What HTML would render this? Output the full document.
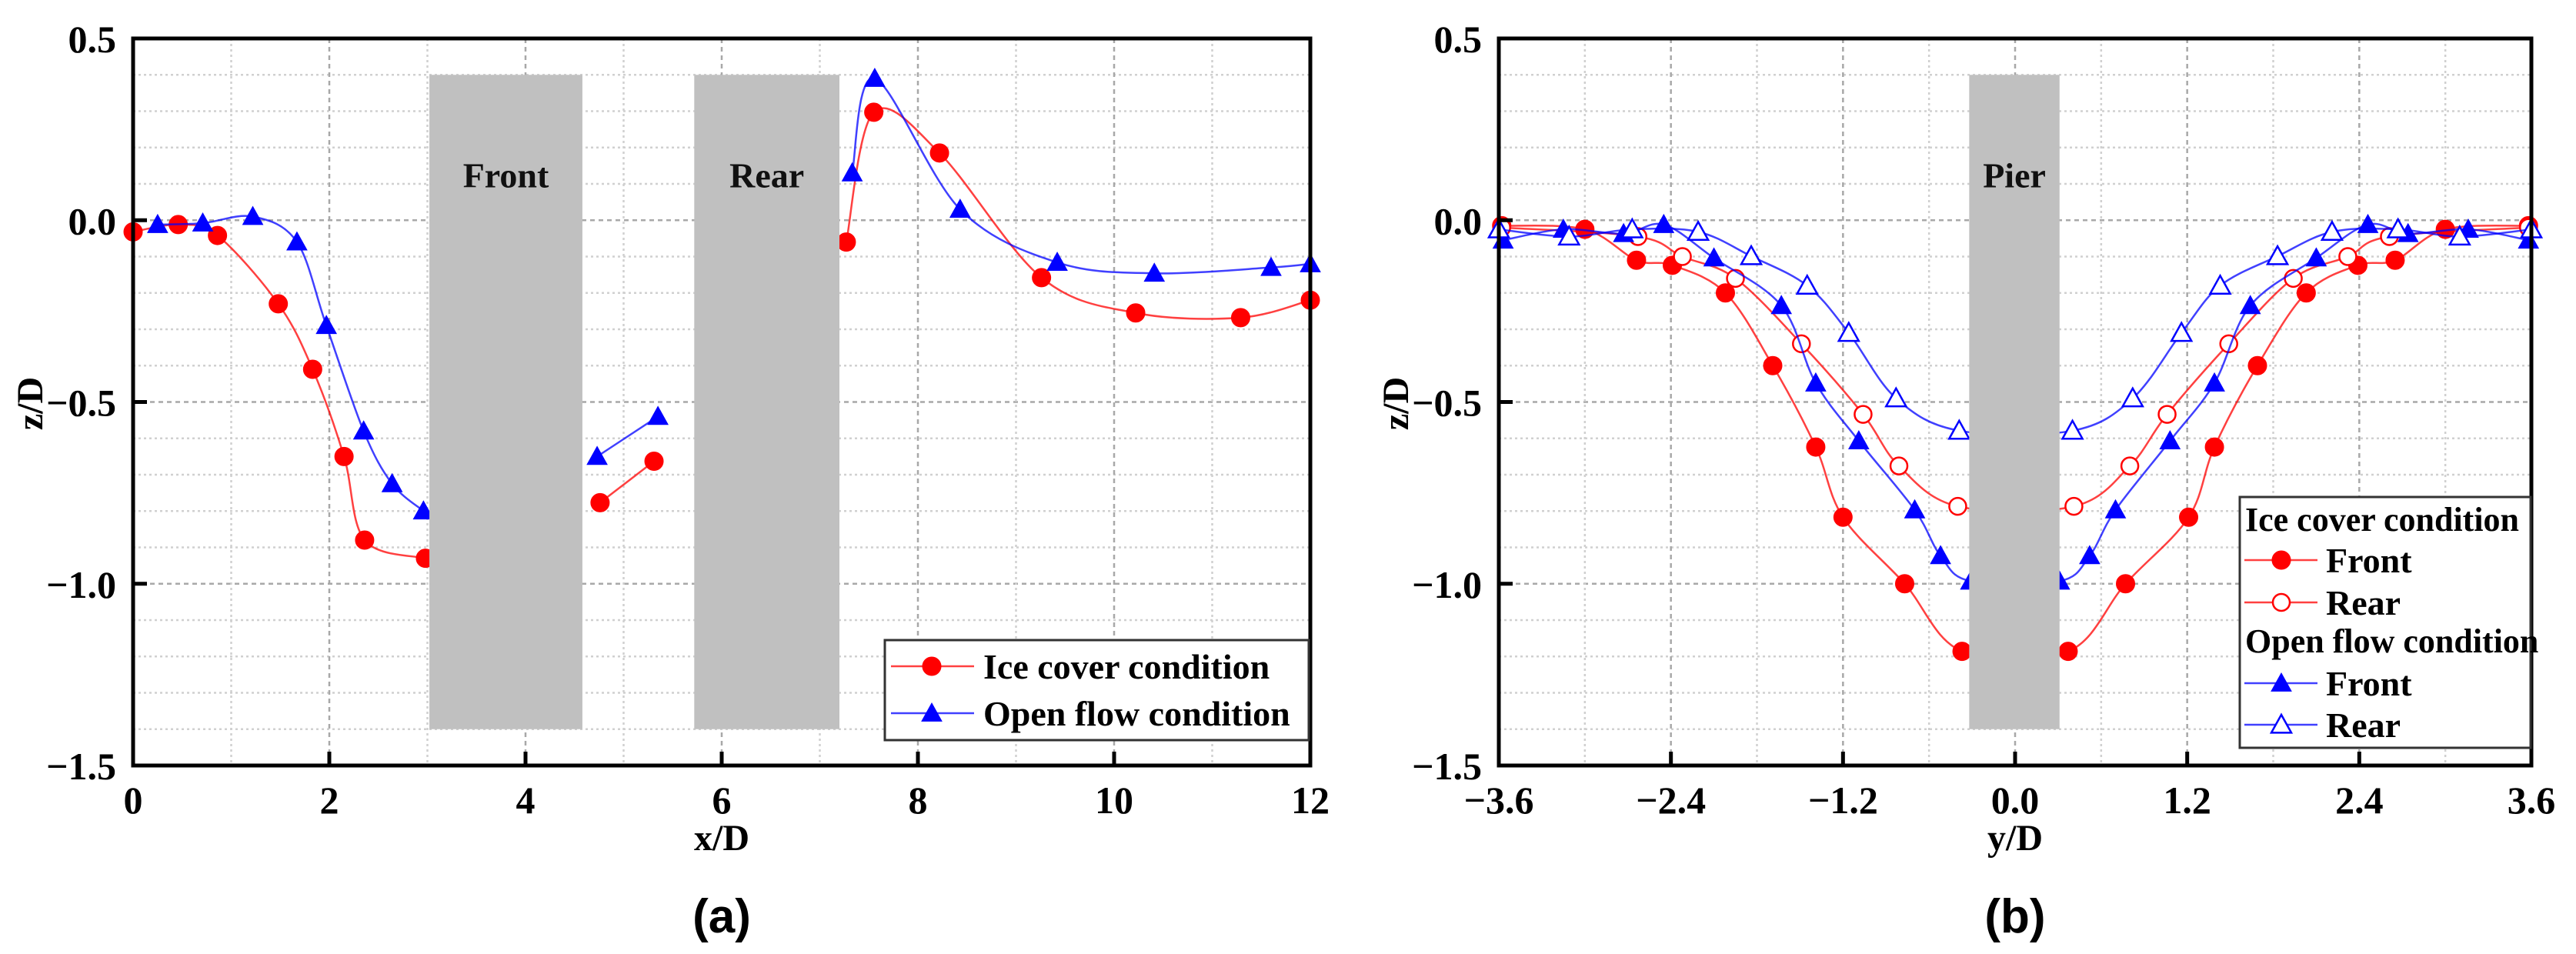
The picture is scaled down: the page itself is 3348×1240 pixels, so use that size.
<!DOCTYPE html>
<html><head><meta charset="utf-8"><style>
html,body{margin:0;padding:0;background:#fff;}
svg{display:block;font-family:"Liberation Serif",serif;font-weight:bold;}
</style></head><body>
<svg id="svg" width="3348" height="1240" viewBox="0 0 3348 1240" xmlns="http://www.w3.org/2000/svg"></svg>
<script>
// ---------- data: panel (a) ----------
const aIceX = [0, 0.46, 0.86, 1.48, 1.83, 2.15, 2.36, 2.98, 4.76, 5.31, 7.27, 7.55, 8.22, 9.26, 10.22, 11.29, 12];
const aIceY = [-0.032, -0.012, -0.042, -0.23, -0.41, -0.65, -0.88, -0.93, -0.777, -0.663, -0.06, 0.297, 0.185, -0.158, -0.255, -0.268, -0.22];
const aOpenX = [0.25, 0.71, 1.22, 1.67, 1.97, 2.35, 2.64, 2.96, 4.73, 5.35, 7.33, 7.56, 8.43, 9.42, 10.41, 11.6, 12];
const aOpenY = [-0.012, -0.008, 0.01, -0.06, -0.29, -0.58, -0.725, -0.80, -0.65, -0.54, 0.13, 0.39, 0.03, -0.116, -0.146, -0.13, -0.12];
const aIceBreaks = [8, 10];
const aOpenBreaks = [8, 10];
const aXTicks = [0, 2, 4, 6, 8, 10, 12];
const aXTickLabels = ["0", "2", "4", "6", "8", "10", "12"];
const yTicks = [0.5, 0.0, -0.5, -1.0, -1.5];
const yTickLabels = ["0.5", "0.0", "\u22120.5", "\u22121.0", "\u22121.5"];
const aBars = [[3.02, 4.58], [5.72, 7.2]];
const aBarLabels = ["Front", "Rear"];
// ---------- data: panel (b) ----------
const bIceFrontX = [-3.58, -3.0, -2.64, -2.39, -2.02, -1.69, -1.39, -1.2, -0.77, -0.37, 0.37, 0.77, 1.21, 1.39, 1.69, 2.03, 2.39, 2.65, 3.0, 3.58];
const bIceFrontY = [-0.015, -0.025, -0.11, -0.124, -0.2, -0.40, -0.624, -0.817, -1.0, -1.186, -1.186, -1.0, -0.817, -0.624, -0.40, -0.2, -0.124, -0.11, -0.025, -0.015];
const bIceRearX = [-3.58, -2.63, -2.32, -1.95, -1.49, -1.06, -0.81, -0.40, 0.41, 0.80, 1.06, 1.49, 1.94, 2.32, 2.61, 3.58];
const bIceRearY = [-0.02, -0.045, -0.10, -0.16, -0.34, -0.534, -0.676, -0.787, -0.787, -0.676, -0.534, -0.34, -0.16, -0.10, -0.045, -0.02];
const bOpenFrontX = [-3.57, -3.15, -2.73, -2.45, -2.1, -1.63, -1.39, -1.09, -0.70, -0.52, -0.31, 0.31, 0.52, 0.70, 1.08, 1.39, 1.64, 2.1, 2.46, 2.74, 3.16, 3.58];
const bOpenFrontY = [-0.055, -0.025, -0.037, -0.012, -0.104, -0.235, -0.448, -0.607, -0.797, -0.923, -0.993, -0.993, -0.923, -0.797, -0.607, -0.448, -0.235, -0.104, -0.012, -0.037, -0.025, -0.055];
const bOpenRearX = [-3.6, -3.11, -2.67, -2.21, -1.84, -1.45, -1.16, -0.83, -0.39, 0.40, 0.82, 1.16, 1.43, 1.83, 2.21, 2.67, 3.10, 3.6];
const bOpenRearY = [-0.025, -0.045, -0.025, -0.032, -0.099, -0.18, -0.31, -0.49, -0.579, -0.579, -0.49, -0.31, -0.18, -0.099, -0.032, -0.025, -0.045, -0.025];
const bXTicks = [-3.6, -2.4, -1.2, 0, 1.2, 2.4, 3.6];
const bXTickLabels = ["\u22123.6", "\u22122.4", "\u22121.2", "0.0", "1.2", "2.4", "3.6"];
const bBars = [[-0.32, 0.31]];
const bBarLabels = ["Pier"];

const NS = "http://www.w3.org/2000/svg";
const svg = document.getElementById("svg");
function mk(tag, attrs, parent) {
  const e = document.createElementNS(NS, tag);
  for (const k in attrs) e.setAttribute(k, attrs[k]);
  (parent || svg).appendChild(e);
  return e;
}
const RED = "#ff0000", BLUE = "#0000ff";

function smoothPath(pts) {
  if (pts.length < 1) return "";
  let d = "M" + pts[0][0] + "," + pts[0][1];
  for (let i = 0; i < pts.length - 1; i++) {
    const p0 = pts[Math.max(0, i - 1)], p1 = pts[i], p2 = pts[i + 1], p3 = pts[Math.min(pts.length - 1, i + 2)];
    const c1x = p1[0] + (p2[0] - p0[0]) / 6, c1y = p1[1] + (p2[1] - p0[1]) / 6;
    const c2x = p2[0] - (p3[0] - p1[0]) / 6, c2y = p2[1] - (p3[1] - p1[1]) / 6;
    d += " C" + c1x + "," + c1y + " " + c2x + "," + c2y + " " + p2[0] + "," + p2[1];
  }
  return d;
}

function marker(g, type, cx, cy, color) {
  let e;
  if (type === "circle" || type === "ocircle") {
    e = mk("circle", {cx: cx, cy: cy, r: type === "circle" ? 12 : 11, fill: type === "circle" ? color : "#fff", stroke: color, "stroke-width": type === "circle" ? 1 : 2.5}, g);
  } else {
    const s = 13;
    e = mk("polygon", {points: (cx) + "," + (cy - s) + " " + (cx - s) + "," + (cy + s * 0.8) + " " + (cx + s) + "," + (cy + s * 0.8), fill: type === "tri" ? color : "#fff", stroke: color, "stroke-width": type === "tri" ? 1 : 2.5}, g);
  }
  return e;
}

function panel(o) {
  const {L, R, T, B, xmin, xmax, name} = o;
  const sx = v => L + (v - xmin) / (xmax - xmin) * (R - L);
  const sy = v => T + (0.5 - v) / 2.0 * (B - T);
  const g = mk("g", {});
  
  
  const grid = mk("g", {}, g);
  
  
  for (let i = 1; i < 20; i++) {
    const v = 0.5 - i * 0.1;
    const major = i % 5 === 0;
    mk("line", {x1: L, x2: R, y1: sy(v), y2: sy(v), stroke: major ? "#a8a8a8" : "#d0d0d0", "stroke-width": 2.5, "stroke-dasharray": major ? "6,5" : "3,4"}, grid);
  }
  for (let i = 1; i < o.nx * 2; i++) {
    const v = xmin + i * (xmax - xmin) / (o.nx * 2);
    const major = i % 2 === 0;
    mk("line", {x1: sx(v), x2: sx(v), y1: T, y2: B, stroke: major ? "#a8a8a8" : "#d0d0d0", "stroke-width": 2.5, "stroke-dasharray": major ? "6,5" : "3,4"}, grid);
  }
  o.series.forEach(s => {
    const sg = mk("g", {}, g);
    
    
    const pts = s.x.map((v, i) => [sx(v), sy(s.y[i])]);
    const cuts = [0].concat(s.breaks || [], [pts.length]);
    for (let k = 0; k < cuts.length - 1; k++) {
      const seg = pts.slice(cuts[k], cuts[k + 1]);
      const p = mk("path", {d: smoothPath(seg), fill: "none", stroke: s.color, "stroke-width": 2.5, "stroke-opacity": 0.75}, sg);
      
      
    }
    pts.forEach(pt => {
      const m = marker(sg, s.marker, pt[0], pt[1], s.color);
      
      
    });
  });
  o.bars.forEach((b, i) => {
    const r = mk("rect", {x: sx(b[0]), y: sy(0.4), width: sx(b[1]) - sx(b[0]), height: sy(-1.4) - sy(0.4), fill: "#c0c0c0"}, g);
    
    
    const t = mk("text", {x: (sx(b[0]) + sx(b[1])) / 2, y: sy(0.12) + 14, "font-size": 46, "text-anchor": "middle", fill: "#111"}, g);
    t.textContent = o.barLabels[i];
    
    
  });
  const fr = mk("rect", {x: L, y: T, width: R - L, height: B - T, fill: "none", stroke: "#000", "stroke-width": 5}, g);
  
  
  o.xTicks.forEach((v, i) => {
    mk("line", {x1: sx(v), x2: sx(v), y1: B, y2: B - 18, stroke: "#000", "stroke-width": 5}, g);
    const t = mk("text", {x: sx(v), y: B + 62, "font-size": 50, "text-anchor": "middle"}, g);
    t.textContent = o.xTickLabels[i];
    
    
  });
  yTicks.forEach((v, i) => {
    mk("line", {x1: L, x2: L + 18, y1: sy(v), y2: sy(v), stroke: "#000", "stroke-width": 5}, g);
    const t = mk("text", {x: L - 22, y: sy(v) + 18, "font-size": 50, "text-anchor": "end"}, g);
    t.textContent = yTickLabels[i];
    
    
  });
  const xt = mk("text", {x: (L + R) / 2, y: B + 110, "font-size": 48, "text-anchor": "middle"}, g);
  xt.textContent = o.xTitle;
  
  
  const yt = mk("text", {x: 0, y: 0, "font-size": 48, "text-anchor": "middle", transform: "translate(" + (L - 118) + "," + ((T + B) / 2 + 2) + ") rotate(-90)"}, g);
  yt.textContent = "z/D";
  
  
  const cap = mk("text", {x: (L + R) / 2, y: 1212, "font-size": 62, "text-anchor": "middle", "font-family": "Liberation Sans, sans-serif"}, g);
  cap.textContent = o.caption;
  
  
  return g;
}

panel({L: 173, R: 1703, T: 50, B: 995, xmin: 0, xmax: 12, nx: 6, name: "panel-a",
  xTicks: aXTicks, xTickLabels: aXTickLabels, xTitle: "x/D", caption: "(a)",
  bars: aBars, barLabels: aBarLabels,
  series: [
    {name: "ice-cover-series", x: aIceX, y: aIceY, breaks: aIceBreaks, color: RED, marker: "circle"},
    {name: "open-flow-series", x: aOpenX, y: aOpenY, breaks: aOpenBreaks, color: BLUE, marker: "tri"}
  ]});
panel({L: 1948, R: 3290, T: 50, B: 995, xmin: -3.6, xmax: 3.6, nx: 6, name: "panel-b",
  xTicks: bXTicks, xTickLabels: bXTickLabels, xTitle: "y/D", caption: "(b)",
  bars: bBars, barLabels: bBarLabels,
  series: [
    {name: "ice-front-series", x: bIceFrontX, y: bIceFrontY, color: RED, marker: "circle"},
    {name: "ice-rear-series", x: bIceRearX, y: bIceRearY, color: RED, marker: "ocircle"},
    {name: "open-front-series", x: bOpenFrontX, y: bOpenFrontY, color: BLUE, marker: "tri"},
    {name: "open-rear-series", x: bOpenRearX, y: bOpenRearY, color: BLUE, marker: "otri"}
  ]});

const lgA = mk("g", {});


mk("rect", {x: 1150, y: 832, width: 551, height: 130, fill: "#fff", stroke: "#333", "stroke-width": 3}, lgA);
[["Ice cover condition", 866, RED, "circle"], ["Open flow condition", 927, BLUE, "tri"]].forEach(r => {
  const e = mk("g", {}, lgA);
  
  
  mk("line", {x1: 1158, x2: 1266, y1: r[1], y2: r[1], stroke: r[2], "stroke-width": 2.5, "stroke-opacity": 0.75}, e);
  marker(e, r[3], 1211, r[1], r[2]);
  const t = mk("text", {x: 1278, y: r[1] + 16, "font-size": 46}, e);
  t.textContent = r[0];
});
const lgB = mk("g", {});


mk("rect", {x: 2911, y: 646, width: 378, height: 326, fill: "#fff", stroke: "#333", "stroke-width": 3}, lgB);
[["Ice cover condition", 690], ["Open flow condition", 848]].forEach(h => {
  const t = mk("text", {x: 2918, y: h[1], "font-size": 44}, lgB);
  t.textContent = h[0];
  
  
});
[["Front", 728, RED, "circle"], ["Rear", 783, RED, "ocircle"], ["Front", 888, BLUE, "tri"], ["Rear", 942, BLUE, "otri"]].forEach(r => {
  const e = mk("g", {}, lgB);
  
  
  mk("line", {x1: 2917, x2: 3012, y1: r[1], y2: r[1], stroke: r[2], "stroke-width": 2.5, "stroke-opacity": 0.75}, e);
  marker(e, r[3], 2965, r[1], r[2]);
  const t = mk("text", {x: 3023, y: r[1] + 16, "font-size": 46}, e);
  t.textContent = r[0];
});
</script>
</body></html>
